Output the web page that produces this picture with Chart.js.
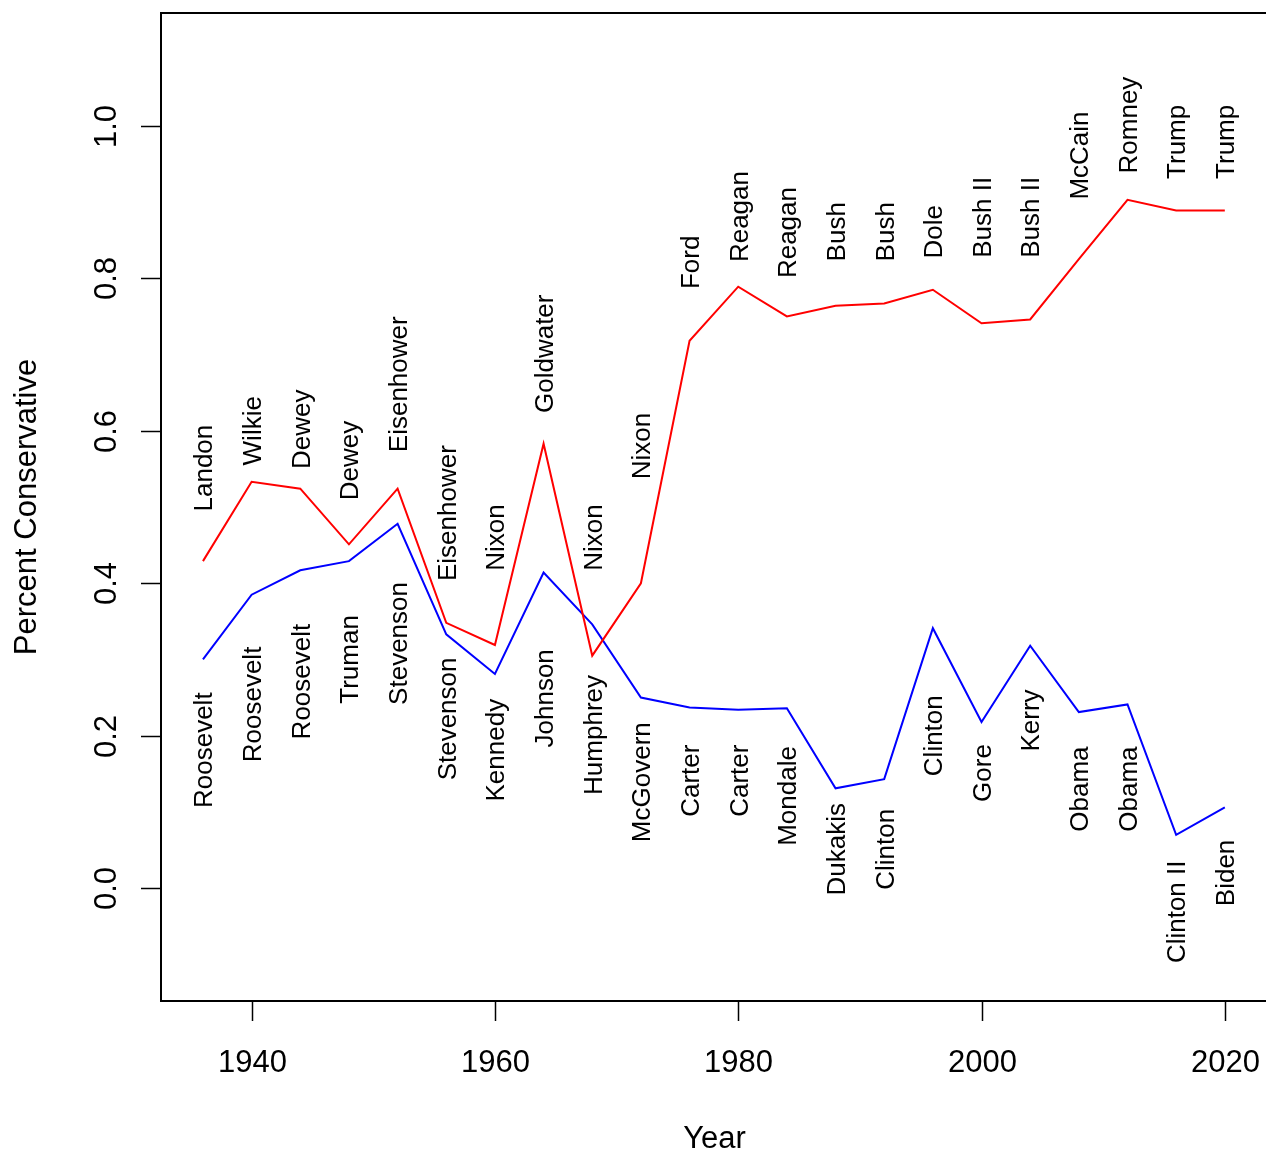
<!DOCTYPE html>
<html>
<head>
<meta charset="utf-8">
<script src="https://cdn.jsdelivr.net/npm/chart.js@4.4.1/dist/chart.umd.min.js"></script>
<style>
  html, body { margin: 0; padding: 0; overflow: hidden; background: #fff; }
  #wrap { width: 1268px; height: 1153px; }
</style>
</head>
<body>
<div id="wrap"><canvas id="chart" width="1268" height="1153"></canvas></div>
<script>
// election years and share of conservative vote
const years = [1936, 1940, 1944, 1948, 1952, 1956, 1960, 1964, 1968, 1972, 1976,
               1980, 1984, 1988, 1992, 1996, 2000, 2004, 2008, 2012, 2016, 2020];
const repShare = [0.429, 0.533, 0.524, 0.451, 0.524, 0.348, 0.319, 0.583, 0.305, 0.400, 0.718,
                  0.789, 0.750, 0.764, 0.767, 0.785, 0.741, 0.746, 0.825, 0.903, 0.889, 0.889];
const demShare = [0.300, 0.385, 0.417, 0.429, 0.478, 0.333, 0.281, 0.414, 0.346, 0.250, 0.237,
                  0.234, 0.236, 0.131, 0.143, 0.341, 0.218, 0.318, 0.231, 0.241, 0.070, 0.106];

const repNames = ["Landon", "Wilkie", "Dewey", "Dewey", "Eisenhower", "Eisenhower", "Nixon",
                  "Goldwater", "Nixon", "Nixon", "Ford", "Reagan", "Reagan", "Bush", "Bush",
                  "Dole", "Bush II", "Bush II", "McCain", "Romney", "Trump", "Trump"];
const demNames = ["Roosevelt", "Roosevelt", "Roosevelt", "Truman", "Stevenson", "Stevenson",
                  "Kennedy", "Johnson", "Humphrey", "McGovern", "Carter", "Carter", "Mondale",
                  "Dukakis", "Clinton", "Clinton", "Gore", "Kerry", "Obama", "Obama",
                  "Clinton II", "Biden"];

// where the name labels sit (centre of the text, in data units)
const repLabelAt = [0.551, 0.600, 0.602, 0.561, 0.661, 0.492, 0.460, 0.701, 0.460, 0.580, 0.821,
                    0.881, 0.860, 0.861, 0.861, 0.861, 0.880, 0.880, 0.961, 1.001, 0.979, 0.979];
const demLabelAt = [0.181, 0.241, 0.271, 0.300, 0.321, 0.222, 0.181, 0.249, 0.201, 0.139, 0.141,
                    0.141, 0.121, 0.051, 0.051, 0.200, 0.151, 0.220, 0.130, 0.130, -0.031, 0.020];

const xTicks = [1940, 1960, 1980, 2000, 2020];
const yTicks = [0.0, 0.2, 0.4, 0.6, 0.8, 1.0];

const FONT = '"Liberation Sans", Arial, Helvetica, sans-serif';

function toPoints(vals) {
  return years.map((yr, i) => ({x: yr, y: vals[i]}));
}

// vertical text reading bottom-to-top, centred on (x, y)
function upText(ctx, text, x, y, size) {
  ctx.save();
  ctx.translate(x + size * 0.358, y);
  ctx.rotate(-Math.PI / 2);
  ctx.textAlign = "center";
  ctx.textBaseline = "alphabetic";
  ctx.fillText(text, 0, 0);
  ctx.restore();
}

// R style box, ticks, axis text and the candidate names
const rAxes = {
  id: "rAxes",
  afterDraw(chart) {
    const ctx = chart.ctx;
    const a = chart.chartArea;
    const xs = chart.scales.x, ys = chart.scales.y;
    ctx.save();
    ctx.strokeStyle = "#000";
    ctx.fillStyle = "#000";

    ctx.lineWidth = 2;
    ctx.strokeRect(a.left, a.top, a.right - a.left, a.bottom - a.top);

    ctx.lineWidth = 1.5;
    ctx.font = "31px " + FONT;
    ctx.textAlign = "center";
    ctx.textBaseline = "alphabetic";
    for (const t of xTicks) {
      const px = Math.round(xs.getPixelForValue(t)) + 0.5;
      ctx.beginPath();
      ctx.moveTo(px, a.bottom);
      ctx.lineTo(px, a.bottom + 20);
      ctx.stroke();
      ctx.fillText(String(t), px, a.bottom + 70.5);
    }
    for (const t of yTicks) {
      const py = Math.round(ys.getPixelForValue(t)) + 0.5;
      ctx.beginPath();
      ctx.moveTo(a.left - 20, py);
      ctx.lineTo(a.left, py);
      ctx.stroke();
      upText(ctx, t.toFixed(1), a.left - 56, py, 31);
    }

    ctx.font = "31px " + FONT;
    ctx.fillText("Year", (a.left + a.right) / 2, a.bottom + 147);
    upText(ctx, "Percent Conservative", 25, (a.top + a.bottom) / 2, 30);

    ctx.font = "26px " + FONT;
    years.forEach((yr, i) => {
      const px = xs.getPixelForValue(yr);
      upText(ctx, repNames[i], px, ys.getPixelForValue(repLabelAt[i]), 26);
      upText(ctx, demNames[i], px, ys.getPixelForValue(demLabelAt[i]), 26);
    });
    ctx.restore();
  }
};

new Chart(document.getElementById("chart"), {
  type: "line",
  data: {
    datasets: [
      {
        label: "Republican",
        data: toPoints(repShare),
        borderColor: "#ff0000",
        borderWidth: 2,
        pointRadius: 0,
        tension: 0,
        fill: false
      },
      {
        label: "Democrat",
        data: toPoints(demShare),
        borderColor: "#0000ff",
        borderWidth: 2,
        pointRadius: 0,
        tension: 0,
        fill: false
      }
    ]
  },
  options: {
    responsive: false,
    animation: false,
    devicePixelRatio: 1,
    layout: { padding: { left: 161, top: 13, right: 0, bottom: 152 } },
    plugins: {
      legend: { display: false },
      tooltip: { enabled: false }
    },
    scales: {
      x: { type: "linear", min: 1932.55, max: 2023.55, display: false },
      y: { type: "linear", min: -0.148, max: 1.148, display: false }
    }
  },
  plugins: [rAxes]
});
</script>
</body>
</html>
